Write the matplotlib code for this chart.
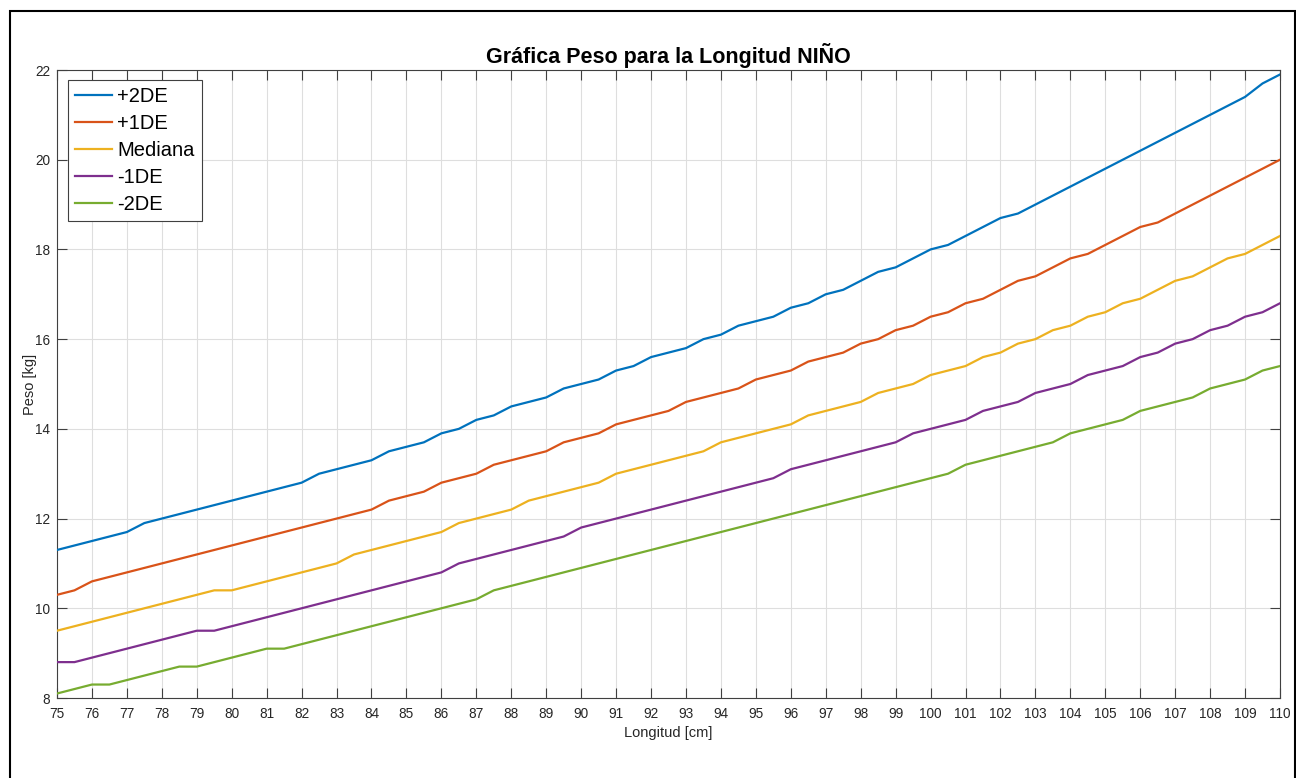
import numpy as np
import matplotlib
matplotlib.use("Agg")
import matplotlib.pyplot as plt
from matplotlib.patches import Rectangle

plt.rcParams['font.family'] = ['Liberation Sans', 'DejaVu Sans']

# Longitud (cm), every 0.5 cm from 75 to 110
longitud = np.arange(75, 110.01, 0.5)

# Peso (kg) reference curves
mas_2de = [11.3, 11.4, 11.5, 11.6, 11.7, 11.9, 12.0, 12.1, 12.2, 12.3,
           12.4, 12.5, 12.6, 12.7, 12.8, 13.0, 13.1, 13.2, 13.3, 13.5,
           13.6, 13.7, 13.9, 14.0, 14.2, 14.3, 14.5, 14.6, 14.7, 14.9,
           15.0, 15.1, 15.3, 15.4, 15.6, 15.7, 15.8, 16.0, 16.1, 16.3,
           16.4, 16.5, 16.7, 16.8, 17.0, 17.1, 17.3, 17.5, 17.6, 17.8,
           18.0, 18.1, 18.3, 18.5, 18.7, 18.8, 19.0, 19.2, 19.4, 19.6,
           19.8, 20.0, 20.2, 20.4, 20.6, 20.8, 21.0, 21.2, 21.4, 21.7,
           21.9]
mas_1de = [10.3, 10.4, 10.6, 10.7, 10.8, 10.9, 11.0, 11.1, 11.2, 11.3,
           11.4, 11.5, 11.6, 11.7, 11.8, 11.9, 12.0, 12.1, 12.2, 12.4,
           12.5, 12.6, 12.8, 12.9, 13.0, 13.2, 13.3, 13.4, 13.5, 13.7,
           13.8, 13.9, 14.1, 14.2, 14.3, 14.4, 14.6, 14.7, 14.8, 14.9,
           15.1, 15.2, 15.3, 15.5, 15.6, 15.7, 15.9, 16.0, 16.2, 16.3,
           16.5, 16.6, 16.8, 16.9, 17.1, 17.3, 17.4, 17.6, 17.8, 17.9,
           18.1, 18.3, 18.5, 18.6, 18.8, 19.0, 19.2, 19.4, 19.6, 19.8,
           20.0]
mediana = [9.5, 9.6, 9.7, 9.8, 9.9, 10.0, 10.1, 10.2, 10.3, 10.4,
           10.4, 10.5, 10.6, 10.7, 10.8, 10.9, 11.0, 11.2, 11.3, 11.4,
           11.5, 11.6, 11.7, 11.9, 12.0, 12.1, 12.2, 12.4, 12.5, 12.6,
           12.7, 12.8, 13.0, 13.1, 13.2, 13.3, 13.4, 13.5, 13.7, 13.8,
           13.9, 14.0, 14.1, 14.3, 14.4, 14.5, 14.6, 14.8, 14.9, 15.0,
           15.2, 15.3, 15.4, 15.6, 15.7, 15.9, 16.0, 16.2, 16.3, 16.5,
           16.6, 16.8, 16.9, 17.1, 17.3, 17.4, 17.6, 17.8, 17.9, 18.1,
           18.3]
menos_1de = [8.8, 8.8, 8.9, 9.0, 9.1, 9.2, 9.3, 9.4, 9.5, 9.5,
             9.6, 9.7, 9.8, 9.9, 10.0, 10.1, 10.2, 10.3, 10.4, 10.5,
             10.6, 10.7, 10.8, 11.0, 11.1, 11.2, 11.3, 11.4, 11.5, 11.6,
             11.8, 11.9, 12.0, 12.1, 12.2, 12.3, 12.4, 12.5, 12.6, 12.7,
             12.8, 12.9, 13.1, 13.2, 13.3, 13.4, 13.5, 13.6, 13.7, 13.9,
             14.0, 14.1, 14.2, 14.4, 14.5, 14.6, 14.8, 14.9, 15.0, 15.2,
             15.3, 15.4, 15.6, 15.7, 15.9, 16.0, 16.2, 16.3, 16.5, 16.6,
             16.8]
menos_2de = [8.1, 8.2, 8.3, 8.3, 8.4, 8.5, 8.6, 8.7, 8.7, 8.8,
             8.9, 9.0, 9.1, 9.1, 9.2, 9.3, 9.4, 9.5, 9.6, 9.7,
             9.8, 9.9, 10.0, 10.1, 10.2, 10.4, 10.5, 10.6, 10.7, 10.8,
             10.9, 11.0, 11.1, 11.2, 11.3, 11.4, 11.5, 11.6, 11.7, 11.8,
             11.9, 12.0, 12.1, 12.2, 12.3, 12.4, 12.5, 12.6, 12.7, 12.8,
             12.9, 13.0, 13.2, 13.3, 13.4, 13.5, 13.6, 13.7, 13.9, 14.0,
             14.1, 14.2, 14.4, 14.5, 14.6, 14.7, 14.9, 15.0, 15.1, 15.3,
             15.4]

series = [mas_2de, mas_1de, mediana, menos_1de, menos_2de]
etiquetas = ['+2DE', '+1DE', 'Mediana', '-1DE', '-2DE']
colores = ['#0072BD', '#D95319', '#EDB120', '#7E2F8E', '#77AC30']

x_ticks = list(range(75, 111))
y_ticks = [8, 10, 12, 14, 16, 18, 20, 22]

W, H = 1296, 778
fig = plt.figure(figsize=(W / 100, H / 100), dpi=100)
fig.patch.set_facecolor('white')

# outer frame (bottom edge falls outside the canvas)
fig.patches.append(Rectangle((9.5 / W, -0.05), (1294.5 - 9.5) / W, 1.05 - 11.0 / H,
                             transform=fig.transFigure, fill=False,
                             edgecolor='black', linewidth=1.5))

ax = fig.add_axes([57 / W, 1 - 698 / H, (1280 - 57) / W, (698 - 70) / H])

for vals, lab, col in zip(series, etiquetas, colores):
    ax.plot(longitud, vals, color=col, linewidth=1.6, label=lab, zorder=3)

ax.set_xlim(75, 110)
ax.set_ylim(8, 22)
ax.set_xticks(x_ticks)
ax.set_yticks(y_ticks)

axis_col = '#404040'
text_col = '#262626'
ax.grid(True, color='#dedede', linewidth=0.8, zorder=0)
ax.set_axisbelow(True)
for s in ax.spines.values():
    s.set_color(axis_col)
    s.set_linewidth(0.8)
ax.tick_params(axis='both', which='major', direction='in', length=7.5, width=0.8,
               color=axis_col, labelcolor=text_col, labelsize=9.8,
               top=True, right=True)
ax.tick_params(axis='x', pad=6.5)
ax.tick_params(axis='y', pad=5)

ax.set_xlabel('Longitud [cm]', fontsize=10.5, color=text_col)
ax.xaxis.set_label_coords(0.5, -(733 - 698) / 628)
ax.xaxis.label.set_verticalalignment('center')
ax.set_ylabel('Peso [kg]', fontsize=10.5, color=text_col)
ax.yaxis.set_label_coords(-(57 - 30) / 1223, 0.5)
ax.yaxis.label.set_verticalalignment('center')
ax.yaxis.label.set_horizontalalignment('center')

fig.text((57 + 1280) / 2 / W, 1 - 56 / H, 'Gráfica Peso para la Longitud NIÑO',
         ha='center', va='center', fontsize=15.5, fontweight='bold', color='black')

leg = ax.legend(loc='upper left', bbox_to_anchor=(11 / 1223, (698 - 80) / 628),
                borderaxespad=0, fontsize=14.5, frameon=True, fancybox=False,
                handlelength=1.85, handletextpad=0.25, labelspacing=0.4,
                borderpad=0.35)
leg.get_frame().set_edgecolor(axis_col)
leg.get_frame().set_linewidth(0.8)
leg.get_frame().set_alpha(1)
for t in leg.get_texts():
    t.set_color('black')

fig.savefig('out.png', dpi=100, facecolor='white')
